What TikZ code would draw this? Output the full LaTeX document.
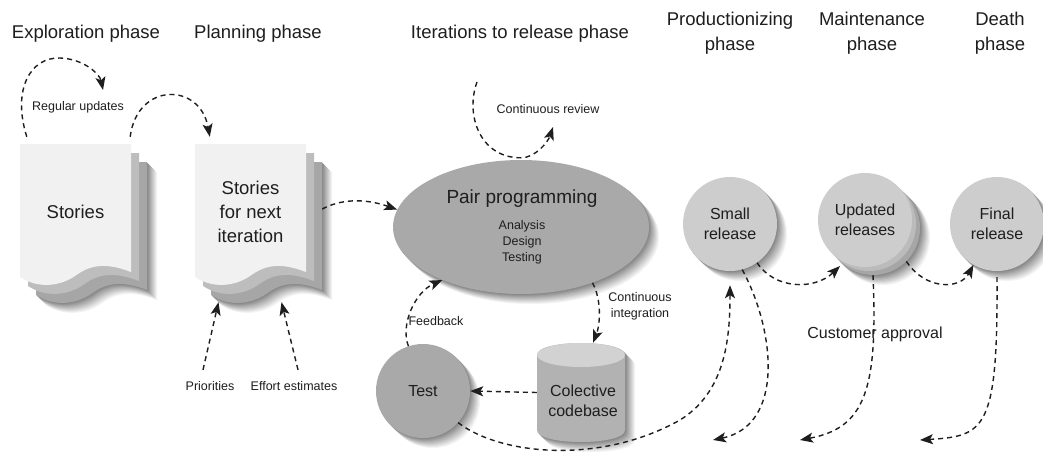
\documentclass[tikz,border=0pt]{standalone}
\usepackage{fontspec}
\setmainfont{Liberation Sans}
\usetikzlibrary{arrows.meta,shapes.geometric}

\definecolor{ink}{HTML}{1E1E1E}
\definecolor{docfront}{HTML}{F1F1F1}
\definecolor{docback}{HTML}{BDBDBD}
\definecolor{docrear}{HTML}{A6A6A6}
\definecolor{relfill}{HTML}{CDCDCD}
\definecolor{relback}{HTML}{BBBBBB}
\definecolor{relrear}{HTML}{A6A6A6}
\definecolor{progfill}{HTML}{A9A9A9}
\definecolor{cylbody}{HTML}{B2B2B2}
\definecolor{cyltop}{HTML}{D2D2D2}

\tikzset{
  flow/.style={draw=ink, line width=1.4pt, dash pattern=on 5pt off 4pt,
    -{Stealth[length=13pt,width=10pt,inset=3pt]}},
  headtext/.style={font=\fontsize{18.5}{25}\selectfont, align=center, text=ink},
  lbl/.style={font=\fontsize{12.5}{16}\selectfont, align=center, text=ink},
  lblmid/.style={font=\fontsize{16}{20.5}\selectfont, align=center, text=ink},
  docbox/.style={rectangle, inner sep=0pt, minimum width=111pt, minimum height=136pt,
    font=\fontsize{18.5}{24}\selectfont, align=center, text=ink},
  disc/.style={circle, inner sep=0pt, minimum size=94pt, fill=relfill, lblmid},
  pics/storysheet/.style={code={
    \fill[#1] (0,0) -- (111,0) -- (111,128)
      .. controls (85,118) and (70,121) .. (55,132)
      .. controls (42,141) and (20,146) .. (0,133) -- cycle;
  }},
  pics/cylshape/.style={code={
    \fill[#1] (0,12) -- (0,87) .. controls (0,103) and (88,103) .. (88,87)
      -- (88,12) .. controls (88,-4) and (0,-4) .. (0,12) -- cycle;
  }}
}

\begin{document}
\begin{tikzpicture}[x=1pt,y=-1pt]
\fill[white] (0,0) rectangle (1043,455);
\useasboundingbox (0,0) rectangle (1043,455);

% positions of the main shapes
\coordinate (storiespos) at (75.5,212);
\coordinate (sfnpos) at (250.5,212);
\coordinate (pppos) at (521,227);
\coordinate (testpos) at (423,391);
\coordinate (cbpos) at (581,392.5);
\coordinate (srpos) at (730,224);
\coordinate (urbpos) at (873,228);
\coordinate (urmpos) at (869,224);
\coordinate (urpos) at (865,220);
\coordinate (frpos) at (997,224);

% phase headings
\node[headtext] (hexp)   at (86,34)    {Exploration phase};
\node[headtext] (hplan)  at (258,34)   {Planning phase};
\node[headtext] (hiter)  at (520,34)   {Iterations to release phase};
\node[headtext] (hprod)  at (730,33.5) {Productionizing\\phase};
\node[headtext] (hmaint) at (872,33.5) {Maintenance\\phase};
\node[headtext] (hdeath) at (1000,33.5){Death\\phase};

% soft shadows: solid layers, farthest and lightest first
\foreach \s [evaluate=\s as \k using 4.6*(11-\s)] in {10,9,...,1}{
  \foreach \p in {storiespos,sfnpos}
    \pic at ([shift={(-39.5+\s,-50+\s)}]\p) {storysheet={fill=black!\k}};
  \fill[black!\k] ([shift={(\s,\s)}]pppos) ellipse [x radius=128, y radius=67];
  \foreach \p in {testpos,srpos,urbpos,frpos}
    \fill[black!\k] ([shift={(\s,\s)}]\p) circle [radius=47];
  \pic at ([shift={(-44+\s,-49.5+\s)}]cbpos) {cylshape={fill=black!\k}};
}

% story stacks
\foreach \p in {storiespos,sfnpos}{
  \pic at ([shift={(-39.5,-50)}]\p) {storysheet={fill=docrear}};
  \pic at ([shift={(-47.5,-59)}]\p) {storysheet={fill=docback}};
  \pic at ([shift={(-55.5,-68)}]\p) {storysheet={fill=docfront}};
}
\node[docbox] (stories) at (storiespos) {Stories};
\node[docbox] (sfn) at (sfnpos) {Stories\\for next\\iteration};

% iteration work
\node[ellipse, inner sep=0pt, minimum width=256pt, minimum height=134pt,
      fill=progfill] (pp) at (pppos) {};
\node[font=\fontsize{19}{22}\selectfont, text=ink] (pptitle) at (522,199) {Pair programming};
\node[lbl] (ppsub) at (522,242) {Analysis\\Design\\Testing};

\node[disc, fill=progfill] (test) at (testpos) {Test};

\pic at ([shift={(-44,-49.5)}]cbpos) {cylshape={fill=cylbody}};
\fill[cyltop] ([shift={(0,-37.5)}]cbpos) ellipse [x radius=44, y radius=12];
\node[inner sep=0pt, minimum width=88pt, minimum height=99pt] (cb) at (cbpos) {};
\node[lblmid] (cbtext) at (583,401) {Colective\\codebase};

% releases
\node[disc] (sr) at (srpos) {Small\\release};
\node[disc, fill=relrear] (urback) at (urbpos) {};
\node[disc, fill=relback] (urmid) at (urmpos) {};
\node[disc] (ur) at (urpos) {Updated\\releases};
\node[disc] (fr) at (frpos) {Final\\release};

% free ends
\coordinate (ruend) at (103,90);
\coordinate (crstart) at (477,82);
\coordinate (crend) at (553,127);
\coordinate (fe1) at (713,440);
\coordinate (fe2) at (800,440);
\coordinate (fe3) at (920,440);

% labels
\node[lbl] (lru)   at (78,107)  {Regular updates};
\node[lbl] (lcr)   at (548,109) {Continuous review};
\node[lbl] (lci)   at (640,306) {Continuous\\integration};
\node[lbl] (lfb)   at (436,321) {Feedback};
\node[lbl] (lprio) at (210,386) {Priorities};
\node[lbl] (leff)  at (294,386) {Effort estimates};
\node[lblmid] (lca) at (875,334) {Customer approval};

% connectors
\draw[flow] ([shift={(7,-7)}]stories.north west) .. controls (12,90) and (30,57) .. (60,58)
  .. controls (85,59) and (100,75) .. (ruend);
\draw[flow] ([shift={(-1,-7)}]stories.north east) .. controls (137,82) and (200,82)
  .. ([shift={(15,-7)}]sfn.north west);
\draw[flow] ([shift={(16,-3)}]sfn.east) .. controls (345,197) and (370,200) .. (pp.172);
\draw[flow] (crstart) .. controls (465,115) and (480,158) .. ([shift={(0,-2)}]pp.north)
  .. controls (535,158) and (548,142) .. (crend);
\draw[flow] (pp.-38) .. controls (602,300) and (600,325) .. ([shift={(12,0)}]cb.north);
\draw[flow] (cb.west) -- (test.east);
\draw[flow] (test.108) .. controls (400,325) and (415,292) .. (pp.-146);
\draw[flow] (test.-42) .. controls (500,455) and (600,465) .. (680,420)
  .. controls (725,392) and (730,340) .. ([shift={(0,14)}]sr.south);
\draw[flow] (sr.-75) .. controls (775,330) and (785,425) .. (fe1);
\draw[flow] (sr.-55) .. controls (775,290) and (815,290) .. ([shift={(0,6)}]ur.-122);
\draw[flow] (urback.-90) .. controls (878,390) and (865,428) .. (fe2);
\draw[flow] (urback.-45) .. controls (925,290) and (960,290) .. (fr.-120);
\draw[flow] ([shift={(0,6)}]fr.south) .. controls (998,430) and (985,436) .. (fe3);
\draw[flow] ([shift={(-7,-8)}]lprio.north) -- ([shift={(-32,22)}]sfn.south);
\draw[flow] ([shift={(4,-8)}]leff.north) -- ([shift={(31,22)}]sfn.south);
\end{tikzpicture}
\end{document}
